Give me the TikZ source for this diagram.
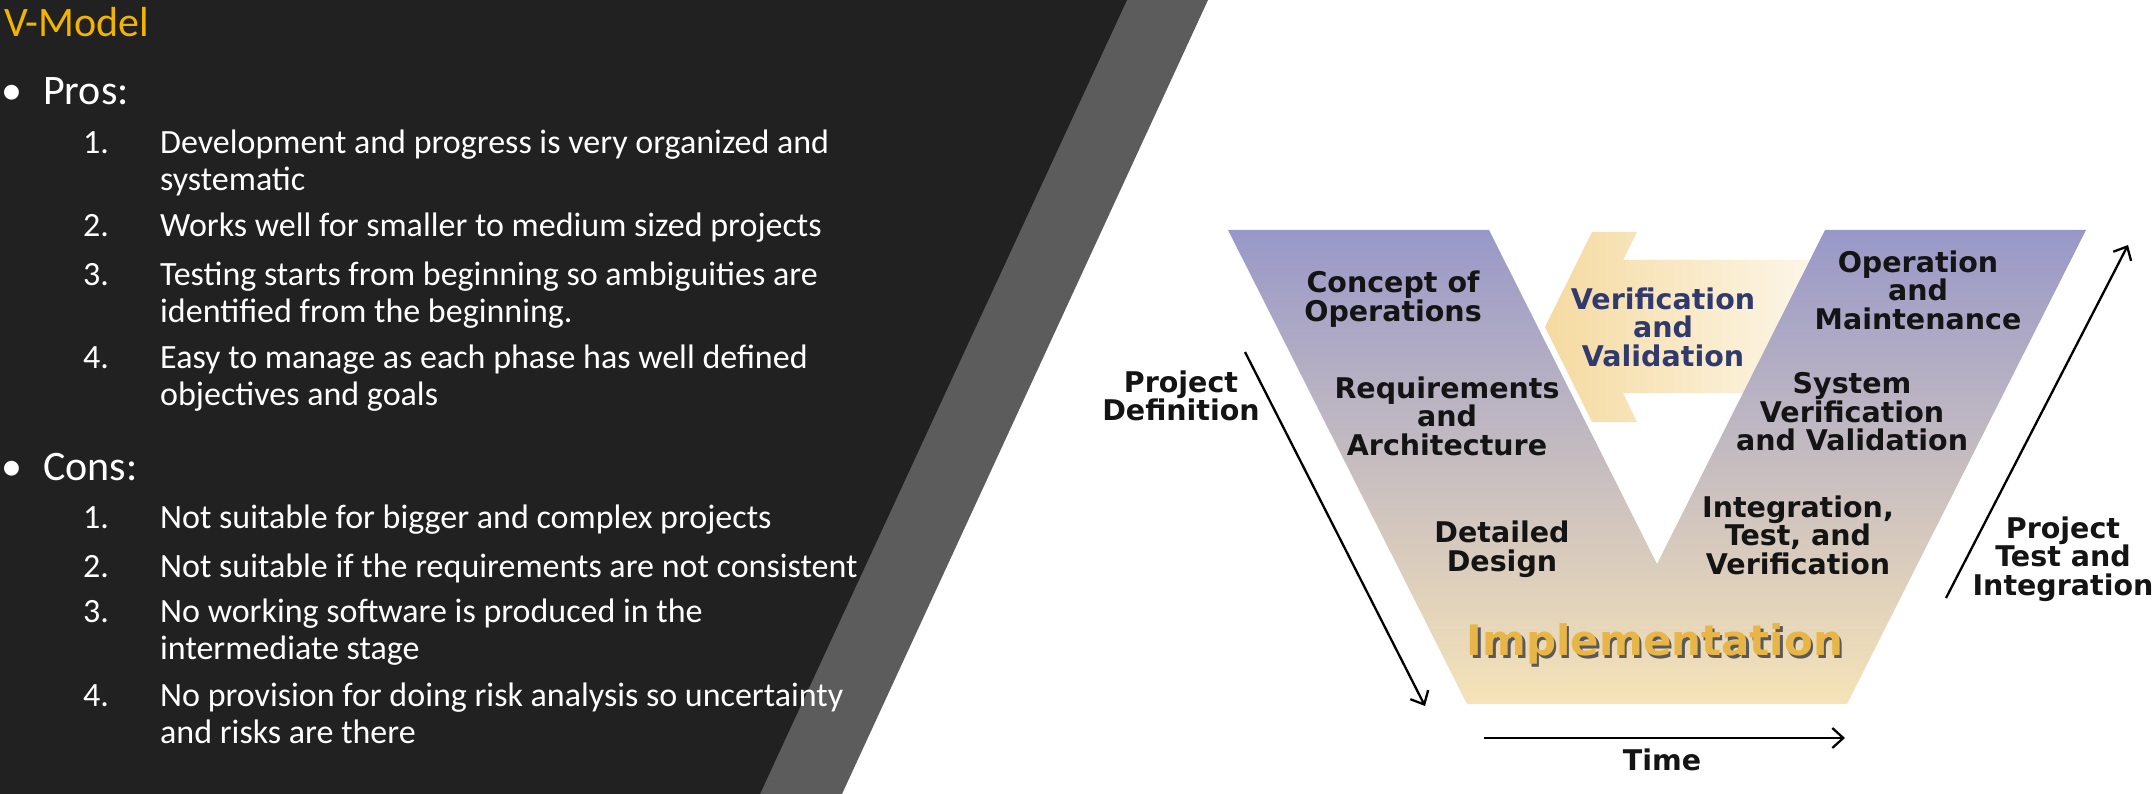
\documentclass[tikz,border=0pt]{standalone}
\usepackage{fontspec}
\setmainfont{Carlito}
\newfontfamily\vmodelfont{DejaVu Sans}
\usetikzlibrary{arrows.meta}

\definecolor{slidebg}{HTML}{212121}
\definecolor{stripe}{HTML}{5C5C5C}
\definecolor{titlegold}{HTML}{F2B400}
\definecolor{vtop}{RGB}{152,152,200}
\definecolor{vmid}{RGB}{205,198,210}
\definecolor{vbot}{RGB}{246,227,184}
\definecolor{vvleft}{RGB}{245,218,160}
\definecolor{vvright}{RGB}{253,249,240}
\definecolor{vvtext}{RGB}{48,58,108}
\definecolor{implgold}{RGB}{232,182,72}

\tikzset{
  slide/.style={text=white,inner sep=0pt,anchor=base west},
  head/.style={slide,font=\fontsize{42}{48}\selectfont},
  item/.style={slide,align=left,font=\fontsize{34}{37}\selectfont},
  phase/.style={inner sep=0pt,align=center,text=black!92,
    font=\vmodelfont\bfseries\fontsize{28.5}{28.5}\selectfont},
  axisarrow/.style={->,line width=2.3pt}
}

\begin{document}
\begin{tikzpicture}[x=1pt,y=-1pt,>={Straight Barb[length=11pt,width=20pt]}]
\useasboundingbox (0,0) rectangle (2156,794);
\fill[white] (0,0) rectangle (2156,794);
% left panel
\fill[stripe] (0,0) -- (1208,0) -- (842,794) -- (0,794) -- cycle;
\fill[slidebg] (0,0) -- (1127,0) -- (760,794) -- (0,794) -- cycle;

\node[slide,text=titlegold,font=\fontsize{42}{48}\selectfont] (title) at (4,37) {V-Model};
\node[head] (pros-dot) at (1,105) {•};
\node[head] (pros) at (43,105) {Pros:};
% base of a two-line item sits on its last line
\foreach \y/\k/\txt [count=\i] in {154/1/{Development and progress is very organized and\\systematic},
    237/0/{Works well for smaller to medium sized projects},
    286/1/{Testing starts from beginning so ambiguities are\\identified from the beginning.},
    369/1/{Easy to manage as each phase has well defined\\objectives and goals}}{
    \node[item] (pro-num-\i) at (83,\y) {\i.};
    \node[item] (pro-\i) at (160,\y+37*\k) {\txt};
}
\node[head] (cons-dot) at (1,480) {•};
\node[head] (cons) at (43,480) {Cons:};
\foreach \y/\k/\txt [count=\i] in {528/0/{Not suitable for bigger and complex projects},
    577/0/{Not suitable if the requirements are not consistent},
    622/1/{No working software is produced in the\\intermediate stage},
    706/1/{No provision for doing risk analysis so uncertainty\\and risks are there}}{
    \node[item] (con-num-\i) at (83,\y) {\i.};
    \node[item] (con-\i) at (160,\y+37*\k) {\txt};
}

% verification arrow behind the V
\shade[left color=vvleft,right color=vvright]
  (1545,327) -- (1592,232) -- (1637,232) -- (1623,260) -- (1840,260)
  -- (1840,393) -- (1623,393) -- (1637,422) -- (1592,422) -- cycle;
% the V
\shade[top color=vtop,middle color=vmid,bottom color=vbot]
  (1228,230) -- (1489,230) -- (1657,564) -- (1825,230) -- (2086,230)
  -- (1847,704) -- (1467,704) -- cycle;

\node[phase] (concept) at (1393,299) {Concept of\\Operations};
\node[phase] (reqs) at (1447,416) {Requirements\\and\\Architecture};
\node[phase] (design) at (1502,549) {Detailed\\Design};
\node[phase] (ops) at (1918,290) {Operation\\and\\Maintenance};
\node[phase] (sysver) at (1852,412) {System\\Verification\\and Validation};
\node[phase] (integ) at (1798,535) {Integration,\\Test, and\\Verification};
\node[phase,text=vvtext] (vv) at (1663,327) {Verification\\and\\Validation};
\node[phase,text=black!65,font=\vmodelfont\bfseries\fontsize{42}{42}\selectfont] (impl-shadow) at (1657.5,646.5) {Implementation};
\node[phase,text=implgold,font=\vmodelfont\bfseries\fontsize{42}{42}\selectfont] (impl) at (1655,644) {Implementation};

\node[phase] (projdef) at (1181,396) {Project\\Definition};
\node[phase] (projtest) at (2063,559) {Project\\Test and\\Integration};
\node[phase] (time) at (1662,760) {Time};

\coordinate (def-a) at (1245,352);
\coordinate (def-b) at (1425,706);
\coordinate (time-a) at (1484,738);
\coordinate (time-b) at (1845,738);
\coordinate (test-a) at (1946,598);
\coordinate (test-b) at (2128,245);
\draw[axisarrow] (def-a) -- (def-b);
\draw[axisarrow] (time-a) -- (time-b);
\draw[axisarrow] (test-a) -- (test-b);
\end{tikzpicture}
\end{document}
